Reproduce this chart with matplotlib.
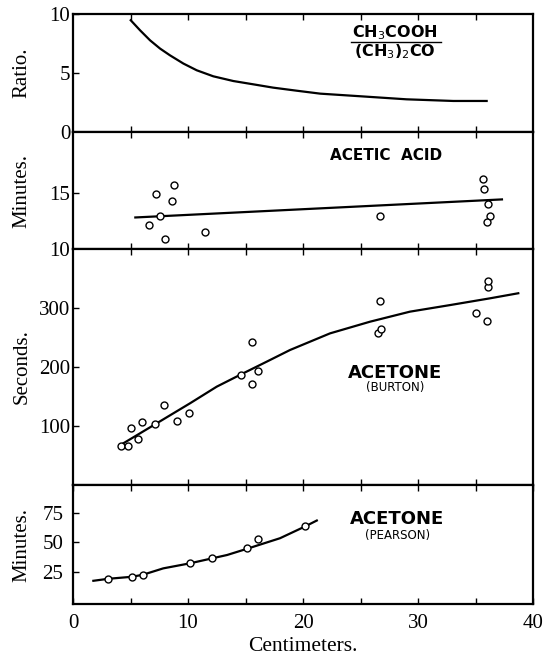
import matplotlib
matplotlib.use("Agg")
import matplotlib.pyplot as plt

# ratio panel (smooth curve only)
ratio_x = [5.02, 5.83, 6.7, 7.57, 8.43, 9.6, 10.76, 12.2, 13.94, 15.68, 17.4, 19.45,
           21.5, 24.96, 29.0, 33.07, 35.97]
ratio_y = [9.47, 8.62, 7.77, 7.07, 6.5, 5.8, 5.23, 4.72, 4.32, 4.04, 3.76, 3.5,
           3.25, 3.03, 2.77, 2.63, 2.63]

# acetic acid
acid_x = [6.57, 7.23, 7.56, 8.04, 8.64, 8.76, 11.48, 26.66, 35.65, 35.71, 36.1, 36.25, 36.0]
acid_y = [12.12, 14.9, 13.0, 10.9, 14.3, 15.7, 11.56, 13.0, 16.3, 15.4, 14.07, 13.0, 12.43]
acid_line_x = [5.42, 37.3]
acid_line_y = [12.83, 14.45]

# acetone (Burton)
burton_x = [4.15, 4.75, 5.0, 5.65, 6.0, 7.16, 7.91, 9.0, 10.1, 14.6, 15.6, 15.6, 16.1,
            26.7, 26.5, 26.8, 36.1, 36.1, 35.0, 36.0]
burton_y = [66.6, 66.6, 96, 77.4, 106.8, 103.4, 136, 108, 122, 186.4, 242, 171.7, 193,
            312, 257, 265, 336, 345, 292, 278]
burton_cx = [4.38, 7.13, 10.17, 12.5, 14.5, 16.84, 18.87, 22.35, 25.83, 29.3, 32.8, 36.26, 38.72]
burton_cy = [70.7, 102.8, 138.4, 166.7, 186.4, 209, 228.8, 257, 276.8, 293.8, 305, 316.4, 325]

# acetone (Pearson)
pearson_x = [3.07, 5.1, 6.06, 10.17, 12.1, 15.1, 16.1, 20.15]
pearson_y = [19.0, 20.7, 22.4, 32.2, 36.5, 45.5, 52.7, 64.1]
pearson_cx = [1.77, 3.07, 5.1, 6.06, 7.85, 10.17, 13.4, 15.1, 18.0, 20.15, 21.2]
pearson_cy = [17.3, 19.0, 20.7, 22.4, 27.9, 32.2, 39.3, 44.5, 53.6, 63.5, 68.7]

serif = "Liberation Serif"
sans = "DejaVu Sans"

fig = plt.figure(figsize=(5.44, 6.57), dpi=100)
L, W = 73 / 544, 460 / 544
H = 657
ax1 = fig.add_axes([L, 1 - 132 / H, W, 118 / H])
ax2 = fig.add_axes([L, 1 - 249 / H, W, 117 / H])
ax3 = fig.add_axes([L, 1 - 485 / H, W, 236 / H])
ax4 = fig.add_axes([L, 1 - 604 / H, W, 119 / H])

for ax in (ax1, ax2, ax3, ax4):
    ax.set_xlim(0, 40)
    ax.set_xticks([5, 10, 15, 20, 25, 30, 35])
    ax.tick_params(direction="in", top=True, length=4, width=1, labelsize=15,
                   labelbottom=False, pad=2)
    for s in ax.spines.values():
        s.set_linewidth(1.6)

ax1.plot(ratio_x, ratio_y, color="black", lw=1.6)
ax1.set_ylim(0, 10)
ax1.set_yticks([0, 5, 10])
ax1.text(28.0, 8.4, "CH$_3$COOH", ha="center", va="center", fontsize=11.5,
         fontweight="bold", family=sans)
ax1.plot([24.2, 32.0], [7.6, 7.6], color="black", lw=1)
ax1.text(28.0, 6.8, "(CH$_3$)$_2$CO", ha="center", va="center", fontsize=11.5,
         fontweight="bold", family=sans)

ax2.plot(acid_line_x, acid_line_y, color="black", lw=1.6)
ax2.plot(acid_x, acid_y, "o", mfc="white", mec="black", ms=5, mew=1)
ax2.set_ylim(10, 20.5)
ax2.set_yticks([10, 15])
ax2.text(27.2, 18.4, "ACETIC  ACID", ha="center", va="center", fontsize=11,
         fontweight="bold", family=sans)

ax3.plot(burton_cx, burton_cy, color="black", lw=1.6)
ax3.plot(burton_x, burton_y, "o", mfc="white", mec="black", ms=5, mew=1)
ax3.set_ylim(0, 400)
ax3.set_yticks([100, 200, 300])
ax3.text(28.0, 190, "ACETONE", ha="center", va="center", fontsize=13,
         fontweight="bold", family=sans)
ax3.text(28.0, 165, "(BURTON)", ha="center", va="center", fontsize=8.5,
         family=sans)

ax4.plot(pearson_cx, pearson_cy, color="black", lw=1.6)
ax4.plot(pearson_x, pearson_y, "o", mfc="white", mec="black", ms=5, mew=1)
ax4.set_ylim(-2.5, 99)
ax4.set_yticks([25, 50, 75])
ax4.text(28.2, 70, "ACETONE", ha="center", va="center", fontsize=13,
         fontweight="bold", family=sans)
ax4.text(28.2, 56, "(PEARSON)", ha="center", va="center", fontsize=8.5,
         family=sans)
ax4.set_xticks([0, 5, 10, 15, 20, 25, 30, 35, 40])
ax4.set_xticklabels(["0", "", "10", "", "20", "", "30", "", "40"])
ax4.tick_params(labelbottom=True, pad=7)
ax4.set_xlabel("Centimeters.", family=serif, fontsize=15.5, labelpad=3)

for ax, lab in ((ax1, "Ratio."), (ax2, "Minutes."), (ax3, "Seconds."), (ax4, "Minutes.")):
    ax.set_ylabel(lab, family=serif, fontsize=15)
    ax.yaxis.set_label_coords(-0.09, 0.5)
    for t in ax.get_yticklabels() + ax.get_xticklabels():
        t.set_fontfamily(serif)

fig.savefig("out.png", dpi=100)
